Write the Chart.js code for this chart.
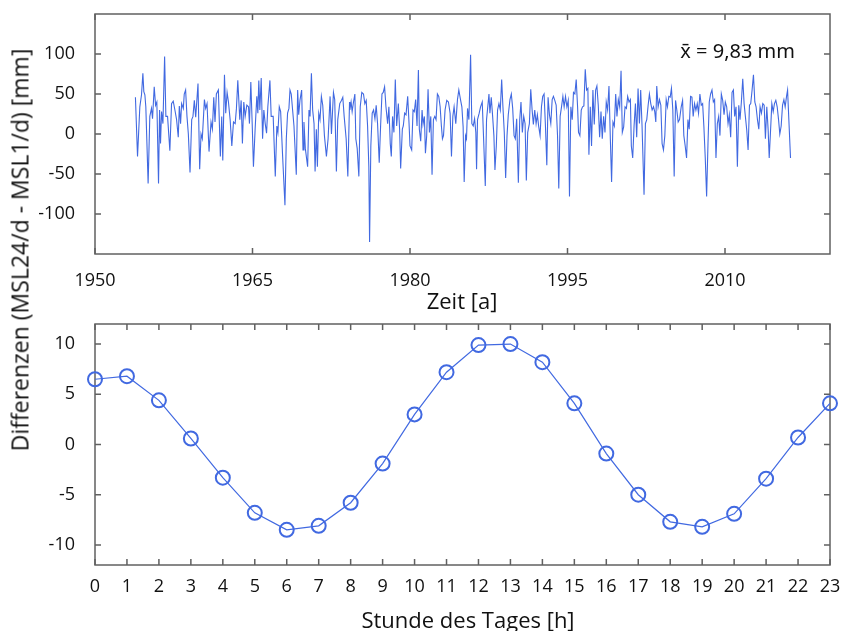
<!DOCTYPE html>
<html lang="de">
<head>
<meta charset="utf-8">
<script src="https://cdn.jsdelivr.net/npm/chart.js@4.4.0/dist/chart.umd.min.js"></script>
<style>
  body { margin: 0; background: #fff; width: 843px; height: 631px; position: relative; overflow: hidden; font-family: "Open Sans", sans-serif; color: #111; }
  #oben { position: absolute; left: 0; top: 0; }
  #unten { position: absolute; left: 0; top: 310px; }
  .titel { position: absolute; white-space: nowrap; font-size: 22px; line-height: 1; transform: translate(-50%, -50%); }
  #yTitel { left: 20px; top: 250px; font-size: 23px; transform: translate(-50%, -50%) rotate(-90deg); }
  #xTitelOben { left: 462px; top: 300px; }
  #xTitelUnten { left: 468px; top: 619px; }
</style>
</head>
<body>
<canvas id="oben" width="843" height="310"></canvas>
<canvas id="unten" width="843" height="321"></canvas>
<div class="titel" id="yTitel">Differenzen (MSL24/d - MSL1/d) [mm]</div>
<div class="titel" id="xTitelOben">Zeit [a]</div>
<div class="titel" id="xTitelUnten">Stunde des Tages [h]</div>
<script>
// Zeitreihe: [Jahr, Differenz in mm]
const monatsDifferenzen = [
  [1953.85, 46], [1954.05, -28], [1954.27, 34], [1954.43, 49], [1954.56, 76], [1954.65, 53], [1954.75, 49], [1954.84, 34],
  [1955.06, -62], [1955.22, 22], [1955.38, 32], [1955.48, 19], [1955.64, 59], [1955.77, 36], [1955.89, 40], [1956.05, -62],
  [1956.15, 30], [1956.24, -12], [1956.34, 28], [1956.47, 13], [1956.63, 97], [1956.75, 22], [1956.91, 22], [1957.13, -21],
  [1957.29, 38], [1957.45, 41], [1957.61, 30], [1957.77, 18], [1957.93, -4], [1958.03, 35], [1958.15, 13], [1958.25, 38],
  [1958.41, 32], [1958.50, 50], [1958.63, 55], [1958.76, 22], [1958.89, 0], [1959.05, -48], [1959.21, 18], [1959.33, 22],
  [1959.46, 42], [1959.59, 21], [1959.81, 63], [1959.97, -44], [1960.10, 0], [1960.22, -6], [1960.42, 43], [1960.54, 32],
  [1960.67, 38], [1960.86, -22], [1961.05, 15], [1961.18, 6], [1961.31, 46], [1961.43, 15], [1961.56, 50], [1961.75, 55],
  [1961.94, -28], [1962.07, 22], [1962.17, -33], [1962.33, 74], [1962.45, 26], [1962.58, 52], [1962.71, 40], [1962.87, 18],
  [1963.03, -15], [1963.19, 15], [1963.35, 13], [1963.47, 32], [1963.60, 67],
  [1963.79, 18], [1963.92, 42], [1964.04, -12], [1964.17, 40], [1964.30, 22], [1964.46, 36], [1964.62, 34], [1964.71, 13],
  [1964.84, 65], [1964.97, 13], [1965.09, -41], [1965.25, 6], [1965.41, 47], [1965.51, 26], [1965.60, 67], [1965.70, 30],
  [1965.83, 70], [1965.96, -6], [1966.08, 30], [1966.21, 13], [1966.34, 1], [1966.46, 34], [1966.66, 67], [1966.78, 22],
  [1966.97, 22], [1967.17, -53], [1967.32, 10], [1967.42, 2], [1967.55, 34], [1967.68, 28], [1967.87, -28], [1968.09, -89],
  [1968.22, -6], [1968.34, 26], [1968.47, 32], [1968.57, 55], [1968.69, 50], [1968.82, 30], [1968.95, 10], [1969.17, -51],
  [1969.30, 55], [1969.40, 24], [1969.52, 42], [1969.68, 55], [1969.81, -20], [1969.90, 15], [1970.03, -18], [1970.25, -41],
  [1970.38, 30], [1970.48, 22], [1970.61, 76], [1970.73, 30], [1970.86, 13], [1970.96, -47], [1971.08, 6], [1971.18, -41],
  [1971.31, 26], [1971.43, 18], [1971.56, 47], [1971.69, 36], [1971.85, -2], [1972.04, -28], [1972.20, -6], [1972.39, 47],
  [1972.52, 0], [1972.71, 52], [1972.83, 43], [1972.99, -47], [1973.12, 18], [1973.31, 38], [1973.47, 42], [1973.60, 46],
  [1973.73, 22], [1973.92, -6], [1974.08, -53], [1974.24, 40],
  [1974.27, 30], [1974.39, 40], [1974.49, 28], [1974.62, 40], [1974.75, 50], [1974.84, -6], [1974.97, -18], [1975.13, -53],
  [1975.26, 34], [1975.41, 52], [1975.57, 50], [1975.70, 38], [1975.83, 42], [1975.96, 10], [1976.08, -41], [1976.15, -135],
  [1976.27, -15], [1976.40, 26], [1976.53, 30], [1976.66, 19], [1976.78, 36], [1976.91, 13], [1977.07, -36], [1977.20, 10],
  [1977.33, 50], [1977.45, 52], [1977.58, 59], [1977.71, 34], [1977.87, 13], [1977.99, 34], [1978.12, -12], [1978.22, -28],
  [1978.34, 22], [1978.47, 2], [1978.60, 68], [1978.73, 10], [1978.89, 38], [1979.01, 6], [1979.11, -43], [1979.27, 6],
  [1979.36, 10], [1979.49, 26], [1979.62, 24], [1979.78, 47], [1979.91, 13], [1980.00, -15], [1980.16, -20], [1980.29, 30],
  [1980.41, 28], [1980.54, 43], [1980.67, 10], [1980.80, 80], [1980.89, 6], [1981.02, -9], [1981.15, 30], [1981.24, 12],
  [1981.37, 22], [1981.47, -24], [1981.59, -2], [1981.72, 56], [1981.85, 2], [1981.98, 22], [1982.10, -51], [1982.23, 18],
  [1982.36, 22], [1982.48, 18], [1982.61, 50], [1982.74, 47], [1982.87, 34], [1982.99, 10], [1983.09, -6], [1983.19, -2],
  [1983.34, 30], [1983.50, 42], [1983.66, 40], [1983.82, 26], [1983.95, -28], [1984.08, 22], [1984.20, 34], [1984.36, 13],
  [1984.52, 43], [1984.65, 55], [1984.81, 43],
  [1984.94, 34], [1985.06, 9], [1985.16, -60], [1985.29, -2], [1985.38, -6], [1985.48, 32], [1985.61, 18], [1985.77, 99],
  [1985.89, 13], [1986.02, 10], [1986.15, 19], [1986.27, 2], [1986.34, -44], [1986.43, 18], [1986.59, 26], [1986.72, 34],
  [1986.88, 40], [1987.01, -6], [1987.17, -65], [1987.29, 18], [1987.42, 36], [1987.52, 50], [1987.61, 26], [1987.74, 46],
  [1987.87, 22], [1987.99, -2], [1988.09, -45], [1988.22, -15], [1988.34, 30], [1988.47, 38], [1988.60, 30], [1988.73, 68],
  [1988.85, 34], [1988.98, 2], [1989.11, -55], [1989.24, -2], [1989.36, 24], [1989.52, 43], [1989.65, 50], [1989.78, 32],
  [1989.91, -2], [1990.03, -6], [1990.16, 19], [1990.32, -61], [1990.45, 18], [1990.57, 40], [1990.70, 2], [1990.83, 22],
  [1990.96, 13], [1991.08, -58], [1991.21, 2], [1991.37, 13], [1991.50, 56], [1991.63, 30], [1991.75, 12], [1991.88, 30],
  [1992.01, 13], [1992.13, 24], [1992.26, 9], [1992.39, -2], [1992.52, 34], [1992.64, 47], [1992.77, 50], [1992.90, 10],
  [1993.03, -39], [1993.15, 46], [1993.28, 24], [1993.41, 13], [1993.54, 43], [1993.66, 47], [1993.79, 42], [1993.92, 36],
  [1994.05, -2], [1994.17, -68], [1994.30, 22], [1994.43, 34], [1994.56, 47], [1994.68, 34], [1994.81, 47], [1994.94, 34],
  [1995.07, 42], [1995.19, -78],
  [1995.32, 34], [1995.45, 18], [1995.57, 52], [1995.70, 50], [1995.83, 68], [1995.96, 34], [1996.05, 2], [1996.18, -2],
  [1996.31, 30], [1996.43, 34], [1996.56, 35], [1996.69, 81], [1996.82, 55], [1996.94, 57], [1997.04, -26], [1997.17, 34],
  [1997.29, -15], [1997.42, 55], [1997.55, 12], [1997.68, 55], [1997.80, 60], [1997.93, 36], [1998.06, -4], [1998.19, 28],
  [1998.31, -6], [1998.44, 22], [1998.57, 2], [1998.69, 40], [1998.82, 30], [1998.95, 60], [1999.08, -6], [1999.20, -60],
  [1999.33, 15], [1999.46, 10], [1999.59, 50], [1999.71, 22], [1999.84, 43], [1999.97, 34], [2000.10, 79], [2000.22, 2],
  [2000.35, 9], [2000.48, 34], [2000.61, 32], [2000.73, 47], [2000.86, 40], [2000.99, 43], [2001.08, -15], [2001.21, -30],
  [2001.34, 10], [2001.47, 38], [2001.59, -4], [2001.72, 57], [2001.85, 13], [2001.97, 55], [2002.10, 10], [2002.29, -76],
  [2002.42, 13], [2002.55, 18], [2002.68, 36], [2002.80, 50], [2002.93, 38], [2003.06, 30], [2003.19, 34], [2003.31, 28],
  [2003.41, 15], [2003.50, 60], [2003.63, 34], [2003.76, 43], [2003.89, 36], [2004.01, -12], [2004.14, -20], [2004.27, -2],
  [2004.40, 43], [2004.52, 34], [2004.65, 47], [2004.78, 46], [2004.90, 57], [2005.03, 30], [2005.16, -53], [2005.29, 42],
  [2005.41, 30], [2005.54, 15], [2005.67, 18], [2005.83, 34],
  [2005.96, 42], [2006.08, -2], [2006.21, -15], [2006.34, -30], [2006.47, 18], [2006.59, 6], [2006.72, 47], [2006.85, 46],
  [2006.97, 22], [2007.10, 38], [2007.23, 30], [2007.36, 38], [2007.48, 26], [2007.61, 50], [2007.74, 36], [2007.87, 38],
  [2007.99, 9], [2008.12, -30], [2008.25, -78], [2008.38, -12], [2008.50, 40], [2008.63, 50], [2008.76, 55], [2008.89, 40],
  [2009.01, 43], [2009.14, -30], [2009.27, 13], [2009.40, 22], [2009.52, -2], [2009.65, 50], [2009.78, 42], [2009.91, 24],
  [2010.03, 40], [2010.16, 34], [2010.29, 13], [2010.41, 24], [2010.54, -4], [2010.67, 52], [2010.80, 55], [2010.92, 22],
  [2011.05, 34], [2011.18, -41], [2011.31, 36], [2011.43, 18], [2011.56, 40], [2011.69, 69], [2011.82, 38], [2011.94, 22],
  [2012.07, 5], [2012.20, -20], [2012.33, 36], [2012.45, 38], [2012.58, 55], [2012.71, 74], [2012.84, 40], [2012.96, 34],
  [2013.09, 18], [2013.22, 6], [2013.34, 34], [2013.47, 26], [2013.60, 38], [2013.73, 36], [2013.85, -6], [2013.98, 34],
  [2014.11, 5], [2014.21, -30], [2014.33, 2], [2014.46, 38], [2014.59, 28], [2014.71, 38], [2014.84, 42], [2014.97, 34],
  [2015.10, 18], [2015.22, 0], [2015.35, 10], [2015.48, 36], [2015.61, 43], [2015.73, 34], [2015.86, 47], [2015.96, 55],
  [2016.08, 18], [2016.24, -30]
];
const zeitTicks = [1950, 1965, 1980, 1995, 2010];
const obenYTicks = [-100, -50, 0, 50, 100];
const mittelwertText = 'x\u0304 = 9,83 mm';

// Tagesgang: Stunde -> Differenz
const stunden = [0, 1, 2, 3, 4, 5, 6, 7, 8, 9, 10, 11, 12, 13, 14, 15, 16, 17, 18, 19, 20, 21, 22, 23];
const stundenDifferenz = [6.5, 6.8, 4.4, 0.6, -3.3, -6.8, -8.5, -8.1, -5.8, -1.9, 3.0, 7.2, 9.9, 10.0, 8.2, 4.1, -0.9, -5.0, -7.7, -8.2, -6.9, -3.4, 0.7, 4.1];
const untenYTicks = [-10, -5, 0, 5, 10];

const blau = '#4169e1';
Chart.defaults.font.family = '"Open Sans", sans-serif';
Chart.defaults.color = '#111';

// Rahmen mit Ticks nach innen, auf allen vier Seiten
const rahmenPlugin = {
  id: 'rahmen',
  beforeDatasetsDraw(chart) {
    const { ctx, chartArea: a, scales } = chart;
    const len = 6;
    ctx.save();
    ctx.strokeStyle = '#606060';
    ctx.lineWidth = 1.5;
    ctx.strokeRect(a.left, a.top, a.right - a.left, a.bottom - a.top);
    ctx.beginPath();
    scales.x.ticks.forEach(t => {
      const px = scales.x.getPixelForValue(t.value);
      ctx.moveTo(px, a.bottom); ctx.lineTo(px, a.bottom - len);
      ctx.moveTo(px, a.top); ctx.lineTo(px, a.top + len);
    });
    scales.y.ticks.forEach(t => {
      const py = scales.y.getPixelForValue(t.value);
      ctx.moveTo(a.left, py); ctx.lineTo(a.left + len, py);
      ctx.moveTo(a.right, py); ctx.lineTo(a.right - len, py);
    });
    ctx.stroke();
    ctx.restore();
  }
};

const mittelwertPlugin = {
  id: 'mittelwert',
  afterDatasetsDraw(chart) {
    const { ctx, chartArea: a } = chart;
    ctx.save();
    ctx.font = '20px "Noto Sans", sans-serif';
    ctx.fillStyle = '#111';
    ctx.textAlign = 'right';
    ctx.textBaseline = 'middle';
    ctx.fillText(mittelwertText, a.right - 35, a.top + 38);
    ctx.restore();
  }
};

function feste(values) {
  return scale => { scale.ticks = values.map(v => ({ value: v })); };
}

// feste Achsgrößen, damit die Plotfläche genau sitzt
function xFit(h) {
  return s => { s.height = h; s.paddingLeft = 0; s.paddingRight = 0; s.paddingTop = 0; s.paddingBottom = 0; };
}
function yFit(s) {
  s.width = 95; s.paddingTop = 0; s.paddingBottom = 0; s.paddingLeft = 0; s.paddingRight = 0;
}

// Oberes Diagramm
new Chart(document.getElementById('oben'), {
  type: 'line',
  data: {
    datasets: [{
      data: monatsDifferenzen.map(([jahr, wert]) => ({ x: jahr, y: wert })),
      borderColor: blau,
      borderWidth: 1.1,
      pointRadius: 0,
      tension: 0
    }]
  },
  options: {
    responsive: false,
    animation: false,
    layout: { padding: { top: 14, right: 13, left: 0, bottom: 0 } },
    plugins: { legend: { display: false }, tooltip: { enabled: false } },
    scales: {
      x: {
        type: 'linear', min: 1950, max: 2020,
        afterBuildTicks: feste(zeitTicks),
        afterFit: xFit(56),
        grid: { display: false },
        border: { display: false },
        ticks: { font: { size: 18 }, padding: 8, maxRotation: 0, callback: v => String(v) }
      },
      y: {
        min: -150, max: 150,
        afterBuildTicks: feste(obenYTicks),
        afterFit: yFit,
        grid: { display: false },
        border: { display: false },
        ticks: { font: { size: 18 }, padding: 12, callback: v => String(v) }
      }
    }
  },
  plugins: [rahmenPlugin, mittelwertPlugin]
});

// Unteres Diagramm
new Chart(document.getElementById('unten'), {
  type: 'line',
  data: {
    datasets: [{
      data: stunden.map((h, i) => ({ x: h, y: stundenDifferenz[i] })),
      borderColor: blau,
      borderWidth: 1.2,
      pointRadius: 7,
      pointBorderWidth: 2,
      pointBorderColor: blau,
      pointBackgroundColor: 'rgba(0,0,0,0)',
      tension: 0,
      clip: false
    }]
  },
  options: {
    responsive: false,
    animation: false,
    layout: { padding: { top: 14, right: 13, left: 0, bottom: 0 } },
    plugins: { legend: { display: false }, tooltip: { enabled: false } },
    scales: {
      x: {
        type: 'linear', min: 0, max: 23,
        afterBuildTicks: feste(stunden),
        afterFit: xFit(66),
        grid: { display: false },
        border: { display: false },
        ticks: { font: { size: 18 }, padding: 3, autoSkip: false, maxRotation: 0, callback: v => String(v) }
      },
      y: {
        min: -12, max: 12,
        afterBuildTicks: feste(untenYTicks),
        afterFit: yFit,
        grid: { display: false },
        border: { display: false },
        ticks: { font: { size: 18 }, padding: 12, callback: v => String(v) }
      }
    }
  },
  plugins: [rahmenPlugin]
});
</script>
</body>
</html>
